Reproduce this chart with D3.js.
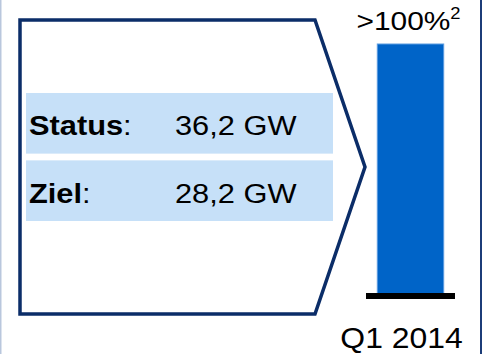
<!DOCTYPE html>
<html>
<head>
<meta charset="utf-8">
<script src="https://cdn.jsdelivr.net/npm/d3@7"></script>
<style>
  html, body { margin: 0; padding: 0; background: #ffffff; }
  svg { display: block; }
  text { font-family: "Liberation Sans", Arial, sans-serif; fill: #000; }
</style>
</head>
<body>
<svg id="chart" width="484" height="354"></svg>
<script>
// Capacity figures shown in the arrow panel
const rowLabels = ["Status", "Ziel"];
const rowValues = ["36,2 GW", "28,2 GW"];

// Goal attainment bar
const periods = ["Q1 2014"];
const attainment = [100];
const attainmentLabels = [">100%"];
const attainmentNote = "2";

const svg = d3.select("#chart");
const W = 484, H = 354;
const stretch = 1.1; // slightly widened lettering

// Outer frame lines
svg.append("line").attr("x1", 0.75).attr("x2", 0.75).attr("y1", 0).attr("y2", H)
  .attr("stroke", "#b9c7dd").attr("stroke-width", 1.5);
svg.append("line").attr("x1", 481).attr("x2", 481).attr("y1", 0).attr("y2", H)
  .attr("stroke", "#1c3c78").attr("stroke-width", 2);

// Chevron-shaped panel
const arrow = { left: 20, top: 20, right: 315, tip: 365, bottom: 314 };
const midY = (arrow.top + arrow.bottom) / 2;
svg.append("path")
  .attr("d", d3.line()([
    [arrow.left, arrow.top], [arrow.right, arrow.top], [arrow.tip, midY],
    [arrow.right, arrow.bottom], [arrow.left, arrow.bottom]
  ]) + "Z")
  .attr("fill", "#fff")
  .attr("stroke", "#0b2d68")
  .attr("stroke-width", 3.5)
  .attr("stroke-linejoin", "miter");

// Rows inside the panel
const rowY = d3.scaleBand().domain(rowLabels).range([93, 221]).paddingInner(0.1);
const rows = svg.selectAll("g.row").data(rowLabels).join("g").attr("class", "row")
  .attr("transform", d => `translate(0,${rowY(d)})`);
rows.append("rect")
  .attr("x", 26).attr("width", 307).attr("y", 0).attr("height", rowY.bandwidth())
  .attr("fill", "#c6e0f8");
const baseY = rowY.bandwidth() / 2 + 12;
const rowText = rows.append("text")
  .attr("transform", `translate(29,${baseY}) scale(${stretch},1)`)
  .style("font-size", "28px");
rowText.append("tspan").style("font-weight", "bold").text(d => d);
rowText.append("tspan").text(":");
rows.append("text")
  .attr("transform", `translate(175,${baseY}) scale(${stretch},1)`)
  .style("font-size", "28px")
  .text((d, i) => rowValues[i]);

// Attainment bar
const x = d3.scaleBand().domain(periods).range([366, 455]).paddingInner(0).paddingOuter(0.17);
const y = d3.scaleLinear().domain([0, 100]).range([296, 44]);

svg.selectAll("rect.bar").data(attainment).join("rect").attr("class", "bar")
  .attr("x", (d, i) => x(periods[i]))
  .attr("width", x.bandwidth())
  .attr("y", d => y(d))
  .attr("height", d => y(0) - y(d))
  .attr("fill", "#0064c8")
  .attr("stroke", "#5b9be0")
  .attr("stroke-width", 1);

// Baseline
svg.append("line")
  .attr("x1", x.range()[0]).attr("x2", x.range()[1])
  .attr("y1", y(0)).attr("y2", y(0))
  .attr("stroke", "#000").attr("stroke-width", 6);

// Value label with footnote mark
const vl = svg.selectAll("text.val").data(attainment).join("text").attr("class", "val")
  .attr("transform", (d, i) => `translate(${x(periods[i]) + x.bandwidth() / 2 - 2},30) scale(${stretch + 0.05},1)`)
  .attr("text-anchor", "middle")
  .style("font-size", "26px");
vl.append("tspan").text((d, i) => attainmentLabels[i]);
vl.append("tspan").attr("dy", -11).style("font-size", "16px").text(attainmentNote);

// Period label
const axis = svg.append("g")
  .attr("transform", `translate(0,${y(0)})`)
  .call(d3.axisBottom(x).tickSize(0).tickPadding(0));
axis.select(".domain").remove();
axis.selectAll("text")
  .attr("y", 0).attr("dy", null)
  .attr("transform", `translate(-9,52) scale(${stretch},1)`)
  .style("font-size", "29px")
  .style("font-family", "'Liberation Sans', Arial, sans-serif")
  .attr("fill", "#000");
</script>
</body>
</html>
